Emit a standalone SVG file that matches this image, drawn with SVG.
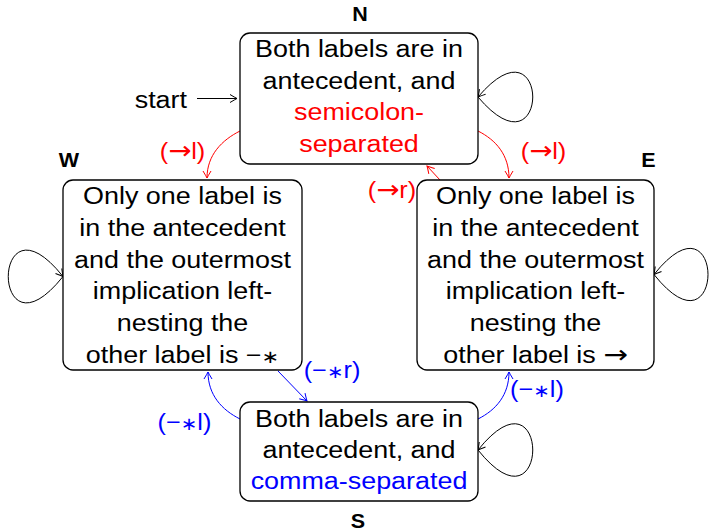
<svg xmlns="http://www.w3.org/2000/svg" width="709" height="532" viewBox="0 0 709 532">
<defs>
<style>
.box{fill:#fff;stroke:#000;stroke-width:1.3}
.t{font-family:"Liberation Sans",Arial,"DejaVu Sans",sans-serif;font-size:23px;text-anchor:middle;fill:#000}
.lb{font-family:"Liberation Sans",Arial,sans-serif;font-size:20.5px;font-weight:bold;text-anchor:middle;fill:#000}
.ar{font-family:"DejaVu Sans",sans-serif;font-size:25px}
.st{font-family:"DejaVu Sans",sans-serif;font-size:18px}
.red{fill:#f00}
.blue{fill:#00f}
.e{fill:none;stroke-width:1}
.ek{stroke:#000;marker-end:url(#ak)}
.er{stroke:#f00;marker-end:url(#ar)}
.eb{stroke:#00f;marker-end:url(#ab)}
</style>
<marker id="ak" markerUnits="userSpaceOnUse" markerWidth="10" markerHeight="10" viewBox="-8 -5 10 10" refX="0" refY="0" orient="auto" overflow="visible"><path d="M-7,-4 Q-2,-1 0,0 Q-2,1 -7,4" fill="none" stroke="#000" stroke-width="1"/></marker>
<marker id="ar" markerUnits="userSpaceOnUse" markerWidth="10" markerHeight="10" viewBox="-8 -5 10 10" refX="0" refY="0" orient="auto" overflow="visible"><path d="M-7,-4 Q-2,-1 0,0 Q-2,1 -7,4" fill="none" stroke="#f00" stroke-width="1"/></marker>
<marker id="ab" markerUnits="userSpaceOnUse" markerWidth="10" markerHeight="10" viewBox="-8 -5 10 10" refX="0" refY="0" orient="auto" overflow="visible"><path d="M-7,-4 Q-2,-1 0,0 Q-2,1 -7,4" fill="none" stroke="#00f" stroke-width="1"/></marker>
</defs>
<rect width="709" height="532" fill="#fff"/>

<g id="edges">
  <path class="e ek" d="M197,98.5 L237,98.5"/>
  <path class="e ek" d="M478,97 C551,183 551,11 478,97"/>
  <path class="e ek" d="M63,276.5 C-10,368 -10,185 63,276.5"/>
  <path class="e ek" d="M654,274.5 C726,365 726,184 654,274.5"/>
  <path class="e ek" d="M478,450 C551,541 551,359 478,450"/>
  <path class="e er" d="M240,131 C222,140 207,155 207,178"/>
  <path class="e er" d="M478,131 C496,140 509,155 509,178"/>
  <path class="e er" d="M440,180 L427,166"/>
  <path class="e eb" d="M278,371 L307,401"/>
  <path class="e eb" d="M240,419 C222,410 208,395 208,372"/>
  <path class="e eb" d="M478,419 C496,410 509,395 509,372"/>
  <g transform="translate(187 0) scale(1.17 1)"><text class="t" x="0" y="108" style="text-anchor:end">start</text></g>
  <g transform="translate(182.5 0) scale(1.1 1)"><text class="t red" x="0" y="159.5">(<tspan class="ar">→</tspan>l)</text></g>
  <g transform="translate(543.5 0) scale(1.1 1)"><text class="t red" x="0" y="159">(<tspan class="ar">→</tspan>l)</text></g>
  <g transform="translate(392 0) scale(1.1 1)"><text class="t red" x="0" y="198.5">(<tspan class="ar">→</tspan>r)</text></g>
  <g transform="translate(332 0) scale(1.1 1)"><text class="t blue" x="0" y="378">(−<tspan class="st">∗</tspan>r)</text></g>
  <g transform="translate(184.5 0) scale(1.1 1)"><text class="t blue" x="0" y="430">(−<tspan class="st">∗</tspan>l)</text></g>
  <g transform="translate(537 0) scale(1.1 1)"><text class="t blue" x="0" y="397">(−<tspan class="st">∗</tspan>l)</text></g>
</g>

<g id="N">
  <rect class="box" x="240" y="33" width="238" height="131" rx="10"/>
  <g transform="translate(359 0) scale(1.17 1)">
    <text class="t" x="0" y="57.5">Both labels are in</text>
    <text class="t" x="0" y="89">antecedent, and</text>
    <text class="t red" x="0" y="120.5">semicolon-</text>
    <text class="t red" x="0" y="152">separated</text>
  </g>
  <text class="lb" transform="translate(360 0) scale(1.05 1)" x="0" y="21.5">N</text>
</g>

<g id="W">
  <rect class="box" x="63" y="180" width="239" height="190" rx="10"/>
  <g transform="translate(182.5 0) scale(1.17 1)">
    <text class="t" x="0" y="204.5">Only one label is</text>
    <text class="t" x="0" y="236">in the antecedent</text>
    <text class="t" x="0" y="267.7">and the outermost</text>
    <text class="t" x="0" y="299.4">implication left-</text>
    <text class="t" x="0" y="331">nesting the</text>
    <text class="t" x="0" y="362.7">other label is −<tspan class="st">∗</tspan></text>
  </g>
  <text class="lb" transform="translate(69 0) scale(1.05 1)" x="0" y="167.5">W</text>
</g>

<g id="E">
  <rect class="box" x="417" y="180" width="237" height="190" rx="10"/>
  <g transform="translate(535.5 0) scale(1.17 1)">
    <text class="t" x="0" y="204.5">Only one label is</text>
    <text class="t" x="0" y="236">in the antecedent</text>
    <text class="t" x="0" y="267.7">and the outermost</text>
    <text class="t" x="0" y="299.4">implication left-</text>
    <text class="t" x="0" y="331">nesting the</text>
    <text class="t" x="0" y="362.7">other label is <tspan class="ar">→</tspan></text>
  </g>
  <text class="lb" transform="translate(648.5 0) scale(1.05 1)" x="0" y="167.5">E</text>
</g>

<g id="S">
  <rect class="box" x="240" y="402" width="238" height="99" rx="10"/>
  <g transform="translate(359 0) scale(1.17 1)">
    <text class="t" x="0" y="427">Both labels are in</text>
    <text class="t" x="0" y="458">antecedent, and</text>
    <text class="t blue" x="0" y="489">comma-separated</text>
  </g>
  <text class="lb" transform="translate(358 0) scale(1.05 1)" x="0" y="528">S</text>
</g>
</svg>
